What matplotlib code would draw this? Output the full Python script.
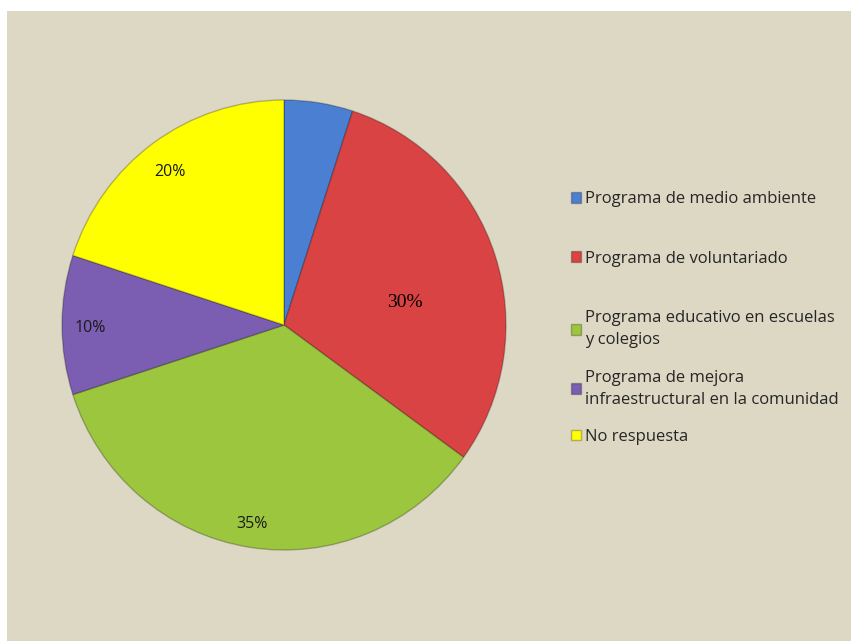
import matplotlib.pyplot as plt

# datos de la encuesta
categorias = ['Programa de medio ambiente',
              'Programa de voluntariado',
              'Programa educativo en escuelas\ny colegios',
              'Programa de mejora\ninfraestructural en la comunidad',
              'No respuesta']
porcentajes = [5, 30, 35, 10, 20]
etiquetas = ['', '30%', '35%', '10%', '20%']
colores = ['#4a7fd2', '#d94343', '#9cc63e', '#7b5db2', '#ffff00']

fondo = '#ddd8c4'

fig = plt.figure(figsize=(8.51, 6.41), dpi=100)
fig.patch.set_facecolor('white')
# panel beige del gráfico
fig.patches.append(plt.Rectangle((7 / 851, 0), 1, 1 - 11 / 641,
                                 transform=fig.transFigure, facecolor=fondo,
                                 edgecolor='none', zorder=-10))

cx, cy, rx, ry = 284, 325, 222, 225
ax = fig.add_axes([(cx - rx) / 851, (641 - cy - ry) / 641, 2 * rx / 851, 2 * ry / 641])
ax.set_facecolor('none')

wedges, _ = ax.pie(porcentajes, colors=colores, startangle=90, counterclock=False,
                   radius=1.0,
                   wedgeprops=dict(edgecolor=(0, 0, 0, 0.25), linewidth=1.0))
ax.set_xlim(-1, 1)
ax.set_ylim(-1, 1)
ax.set_aspect('auto')
ax.axis('off')

# etiquetas de porcentaje
pos = {'30%': (0.545, 0.102), '35%': (-0.144, -0.884),
       '10%': (-0.874, -0.013), '20%': (-0.514, 0.68)}
for w, et in zip(wedges, etiquetas):
    if not et:
        continue
    x, y = pos[et]
    if et == '30%':
        ax.text(x, y, et, ha='center', va='center', fontsize=14,
                family='Liberation Serif', color='black')
    else:
        ax.text(x, y, et, ha='center', va='center', fontsize=11.5,
                family='Open Sans', color='#1a1a1a')

# leyenda en dos bloques para respetar el espaciado
estilo = dict(loc='upper left', frameon=False, handlelength=0.6, handleheight=0.6,
              handletextpad=0.2, borderpad=0, prop=dict(family='Open Sans', size=12))
leg1 = fig.legend(wedges[:2], categorias[:2], labelspacing=2.6,
                  bbox_to_anchor=(563 / 851, 1 - 183 / 641), **estilo)
leg2 = fig.legend(wedges[2:], categorias[2:], labelspacing=1.27,
                  bbox_to_anchor=(563 / 851, 1 - 302 / 641), **estilo)
for leg in (leg1, leg2):
    for t in leg.get_texts():
        t.set_color('#262626')
        t.set_linespacing(1.5)

fig.savefig('out.png', dpi=100, facecolor='white')
